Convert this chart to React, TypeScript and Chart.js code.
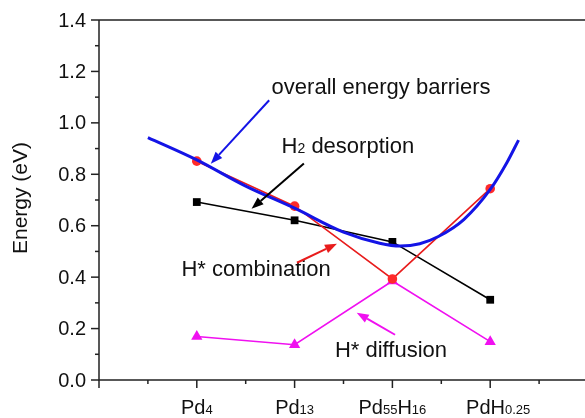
import React, { useEffect, useRef } from "react";
import { Chart, registerables } from "chart.js";

Chart.register(...registerables);

// ---- data ----
const categories = ["Pd4", "Pd13", "Pd55H16", "PdH0.25"];
const categoryX = [1, 2, 3, 4];
const combination = [0.851, 0.676, 0.393, 0.744]; // H* combination (red)
const desorption = [0.692, 0.621, 0.537, 0.312]; // H2 desorption (black)
const diffusion = [0.169, 0.137, 0.385, 0.149]; // H* diffusion (magenta)
const overallX = [0.5, 1.0, 1.5, 2.0, 2.5, 2.87, 3.08, 3.28, 3.47, 3.73, 4.0, 4.17, 4.29];
const overallY = [0.943, 0.856, 0.754, 0.668, 0.575, 0.532, 0.521, 0.53, 0.558, 0.624, 0.741, 0.845, 0.933];
const yTickValues = [0, 0.2, 0.4, 0.6, 0.8, 1.0, 1.2, 1.4];
const yTickLabels = ["0.0", "0.2", "0.4", "0.6", "0.8", "1.0", "1.2", "1.4"];
const yTitle = "Energy (eV)";

// annotation texts (anchored in data coordinates)
const noteTexts = ["overall energy barriers", "H2 desorption", "H* combination", "H* diffusion"];
const noteX = [1.765, 1.867, 0.843, 2.412];
const noteY = [1.112, 0.884, 0.406, 0.091];
// arrows: tail -> head in data coordinates
const arrowTailX = [1.74, 2.095, 2.024, 3.027];
const arrowTailY = [1.088, 0.842, 0.456, 0.176];
const arrowHeadX = [1.143, 1.56, 2.433, 2.635];
const arrowHeadY = [0.841, 0.666, 0.53, 0.262];
const arrowColors = ["#1414e6", "#000000", "#e81c1c", "#f010f0"];

const FONT = '"Liberation Sans", Arial, Helvetica, sans-serif';

function segments(text: string) {
  const re = /([0-9.]+)|([^0-9.]+)/g;
  const out: { t: string; sub: boolean }[] = [];
  let m: RegExpExecArray | null;
  while ((m = re.exec(text))) {
    if (m[1]) out.push({ t: m[1], sub: true });
    else out.push({ t: m[2], sub: false });
  }
  return out;
}

function drawRich(
  ctx: CanvasRenderingContext2D,
  text: string,
  x: number,
  y: number,
  size: number,
  subSize: number,
  align: "left" | "center"
) {
  const segs = segments(text);
  const widths = segs.map((s) => {
    ctx.font = `${s.sub ? subSize : size}px ${FONT}`;
    return ctx.measureText(s.t).width;
  });
  const total = widths.reduce((a, b) => a + b, 0);
  let cx = align === "center" ? x - total / 2 : x;
  ctx.textAlign = "left";
  ctx.textBaseline = "alphabetic";
  segs.forEach((s, i) => {
    ctx.font = `${s.sub ? subSize : size}px ${FONT}`;
    ctx.fillText(s.t, cx, y);
    cx += widths[i];
  });
}

const decorPlugin = {
  id: "decor",
  afterDraw(chart: any) {
    const ctx: CanvasRenderingContext2D = chart.ctx;
    const xs = chart.scales.x;
    const ys = chart.scales.y;
    const area = chart.chartArea;
    ctx.save();
    ctx.strokeStyle = "#222";
    ctx.fillStyle = "#111";
    ctx.lineWidth = 1.5;
    // axes frame
    ctx.beginPath();
    ctx.moveTo(area.left, area.top);
    ctx.lineTo(area.left, area.bottom);
    ctx.lineTo(area.right, area.bottom);
    ctx.moveTo(area.left, area.top);
    ctx.lineTo(area.right, area.top);
    ctx.stroke();
    // y ticks
    for (let v = 0; v <= 14; v++) {
      const py = ys.getPixelForValue(v / 10);
      const len = v % 2 === 0 ? 8 : 4;
      ctx.beginPath();
      ctx.moveTo(area.left - len, py);
      ctx.lineTo(area.left, py);
      ctx.stroke();
    }
    // x ticks
    for (let v = 0; v <= 10; v++) {
      const px = xs.getPixelForValue(v / 2);
      const len = v % 2 === 0 ? 8 : 4;
      ctx.beginPath();
      ctx.moveTo(px, area.bottom);
      ctx.lineTo(px, area.bottom + len);
      ctx.stroke();
    }
    // y labels
    ctx.font = `20px ${FONT}`;
    ctx.textAlign = "right";
    ctx.textBaseline = "middle";
    yTickValues.forEach((v, i) => {
      ctx.fillText(yTickLabels[i], area.left - 13, ys.getPixelForValue(v) + 1);
    });
    // y title
    ctx.save();
    ctx.translate(21, (area.top + area.bottom) / 2 - 2);
    ctx.rotate(-Math.PI / 2);
    ctx.font = `21px ${FONT}`;
    ctx.textAlign = "center";
    ctx.textBaseline = "middle";
    ctx.fillText(yTitle, 0, 0);
    ctx.restore();
    // x labels
    categories.forEach((c, i) => {
      const shift = i === categories.length - 1 ? 8 : 0;
      drawRich(ctx, c, xs.getPixelForValue(categoryX[i]) + shift, 414, 20, 13, "center");
    });
    // annotations
    noteTexts.forEach((t, i) => {
      ctx.fillStyle = "#111";
      drawRich(ctx, t, xs.getPixelForValue(noteX[i]), ys.getPixelForValue(noteY[i]), 22, 14, "left");
    });
    // arrows
    arrowTailX.forEach((_, i) => {
      const x1 = xs.getPixelForValue(arrowTailX[i]);
      const y1 = ys.getPixelForValue(arrowTailY[i]);
      const x2 = xs.getPixelForValue(arrowHeadX[i]);
      const y2 = ys.getPixelForValue(arrowHeadY[i]);
      const ang = Math.atan2(y2 - y1, x2 - x1);
      const hl = 12;
      const hw = 4.5;
      const bx = x2 - hl * Math.cos(ang);
      const by = y2 - hl * Math.sin(ang);
      ctx.strokeStyle = arrowColors[i];
      ctx.fillStyle = arrowColors[i];
      ctx.lineWidth = 2;
      ctx.beginPath();
      ctx.moveTo(x1, y1);
      ctx.lineTo(bx, by);
      ctx.stroke();
      ctx.beginPath();
      ctx.moveTo(x2, y2);
      ctx.lineTo(bx + hw * Math.sin(ang), by - hw * Math.cos(ang));
      ctx.lineTo(bx - hw * Math.sin(ang), by + hw * Math.cos(ang));
      ctx.closePath();
      ctx.fill();
    });
    ctx.restore();
  },
};

export default function App() {
  const ref = useRef<HTMLCanvasElement>(null);
  useEffect(() => {
    if (!ref.current) return;
    const pts = (ys: number[]) => ys.map((y, i) => ({ x: categoryX[i], y }));
    const chart = new Chart(ref.current, {
      type: "line",
      data: {
        datasets: [
          {
            label: "overall energy barriers",
            data: overallX.map((x, i) => ({ x, y: overallY[i] })),
            borderColor: "#1414e6",
            borderWidth: 3,
            pointRadius: 0,
            cubicInterpolationMode: "monotone",
            order: 0,
          },
          {
            label: "H* combination",
            data: pts(combination),
            borderColor: "#e81c1c",
            backgroundColor: "#ff2a2a",
            borderWidth: 1.6,
            pointRadius: 4.8,
            pointBorderWidth: 0,
            pointStyle: "circle",
            order: 1,
          },
          {
            label: "H2 desorption",
            data: pts(desorption),
            borderColor: "#000000",
            backgroundColor: "#000000",
            borderWidth: 1.6,
            pointRadius: 5.5,
            pointBorderWidth: 0,
            pointStyle: "rect",
            order: 2,
          },
          {
            label: "H* diffusion",
            data: pts(diffusion),
            borderColor: "#f010f0",
            backgroundColor: "#f010f0",
            borderWidth: 1.6,
            pointRadius: 6.5,
            pointBorderWidth: 0,
            pointStyle: "triangle",
            order: 3,
          },
        ],
      },
      options: {
        responsive: false,
        animation: false,
        events: [],
        layout: { padding: { top: 20, right: 0, left: 0, bottom: 0 }, autoPadding: false },
        plugins: { legend: { display: false }, tooltip: { enabled: false } },
        scales: {
          x: {
            type: "linear",
            min: 0,
            max: 5,
            ticks: { display: false },
            grid: { display: false },
            border: { display: false },
            afterFit: (s: any) => {
              s.height = 38;
            },
          },
          y: {
            min: 0,
            max: 1.4,
            ticks: { display: false },
            grid: { display: false },
            border: { display: false },
            afterFit: (s: any) => {
              s.width = 99;
            },
          },
        },
      } as any,
      plugins: [decorPlugin],
    });
    return () => chart.destroy();
  }, []);
  return (
    <div
      style={{
        position: "fixed",
        left: 0,
        top: 0,
        width: 585,
        height: 418,
        overflow: "hidden",
        background: "#fff",
      }}
    >
      <canvas ref={ref} width={588} height={418} style={{ display: "block" }} />
    </div>
  );
}
